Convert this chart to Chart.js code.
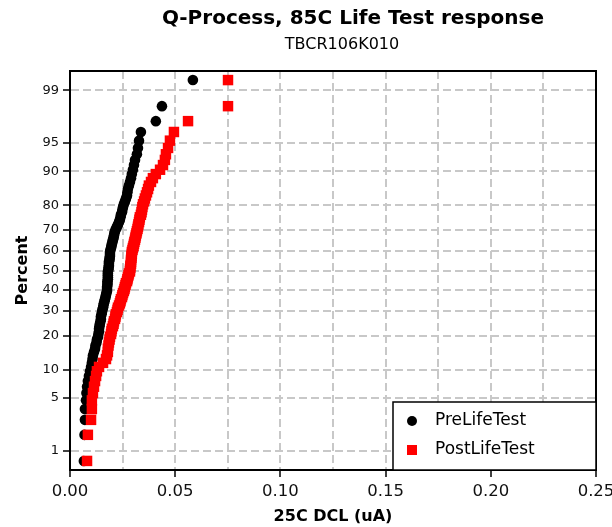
<!DOCTYPE html>
<html>
<head>
<meta charset="utf-8">
<title>Q-Process, 85C Life Test response</title>
<script src="https://cdn.jsdelivr.net/npm/chart.js"></script>
<style>
  html, body { margin: 0; padding: 0; background: #fff; }
  canvas { display: block; }
</style>
</head>
<body>
<canvas id="probPlot" width="612" height="527"></canvas>
<script>
const titleText = "Q-Process, 85C Life Test response";
const subtitleText = "TBCR106K010";
const xTitle = "25C DCL (uA)";
const yTitle = "Percent";
const seriesNames = ["PreLifeTest", "PostLifeTest"];

// 25C DCL readings (uA), 100 parts each
const preLifeTest = [
  0.0066, 0.0069, 0.0071, 0.0071, 0.0076, 0.0078, 0.0081, 0.0085, 0.0090, 0.0095,
  0.0100, 0.0104, 0.0107, 0.0109, 0.0114, 0.0119, 0.0121, 0.0126, 0.0128, 0.0133,
  0.0135, 0.0138, 0.0138, 0.0140, 0.0142, 0.0145, 0.0147, 0.0147, 0.0150, 0.0152,
  0.0154, 0.0157, 0.0159, 0.0161, 0.0164, 0.0166, 0.0169, 0.0171, 0.0173, 0.0176,
  0.0176, 0.0176, 0.0178, 0.0178, 0.0178, 0.0180, 0.0180, 0.0180, 0.0180, 0.0180,
  0.0183, 0.0183, 0.0185, 0.0185, 0.0185, 0.0188, 0.0188, 0.0190, 0.0190, 0.0190,
  0.0192, 0.0195, 0.0197, 0.0199, 0.0202, 0.0204, 0.0207, 0.0209, 0.0211, 0.0214,
  0.0218, 0.0223, 0.0228, 0.0233, 0.0237, 0.0240, 0.0242, 0.0247, 0.0249, 0.0252,
  0.0256, 0.0261, 0.0266, 0.0271, 0.0273, 0.0275, 0.0280, 0.0285, 0.0290, 0.0294,
  0.0299, 0.0304, 0.0309, 0.0318, 0.0323, 0.0328, 0.0337, 0.0408, 0.0437, 0.0584
];
const postLifeTest = [
  0.0081, 0.0085, 0.0100, 0.0104, 0.0104, 0.0109, 0.0114, 0.0119, 0.0124, 0.0128,
  0.0138, 0.0157, 0.0171, 0.0176, 0.0180, 0.0180, 0.0183, 0.0185, 0.0188, 0.0190,
  0.0195, 0.0197, 0.0199, 0.0204, 0.0207, 0.0209, 0.0214, 0.0216, 0.0218, 0.0223,
  0.0226, 0.0228, 0.0233, 0.0237, 0.0240, 0.0242, 0.0247, 0.0249, 0.0252, 0.0256,
  0.0259, 0.0261, 0.0264, 0.0266, 0.0271, 0.0273, 0.0275, 0.0278, 0.0280, 0.0285,
  0.0285, 0.0287, 0.0287, 0.0290, 0.0290, 0.0290, 0.0292, 0.0292, 0.0294, 0.0294,
  0.0297, 0.0299, 0.0302, 0.0304, 0.0306, 0.0309, 0.0311, 0.0313, 0.0316, 0.0318,
  0.0321, 0.0323, 0.0325, 0.0328, 0.0330, 0.0332, 0.0337, 0.0340, 0.0342, 0.0344,
  0.0347, 0.0352, 0.0356, 0.0361, 0.0366, 0.0371, 0.0375, 0.0385, 0.0394, 0.0408,
  0.0428, 0.0442, 0.0451, 0.0456, 0.0466, 0.0475, 0.0494, 0.0561, 0.0751, 0.0751
];

const percentTicks = [1, 5, 10, 20, 30, 40, 50, 60, 70, 80, 90, 95, 99];
const xTickLabels = ["0.00", "0.05", "0.10", "0.15", "0.20", "0.25"];
const percentRange = [0.5, 99.5];

const font = "DejaVu Sans";

// inverse normal cdf (Acklam) -> the probability axis
function probit(p) {
  const a = [-3.969683028665376e+01, 2.209460984245205e+02, -2.759285104469687e+02, 1.383577518672690e+02, -3.066479806614716e+01, 2.506628277459239e+00];
  const b = [-5.447609879822406e+01, 1.615858368580409e+02, -1.556989798598866e+02, 6.680131188771972e+01, -1.328068155288572e+01];
  const c = [-7.784894002430293e-03, -3.223964580411365e-01, -2.400758277161838e+00, -2.549732539343734e+00, 4.374664141464968e+00, 2.938163982698783e+00];
  const d = [7.784695709041462e-03, 3.224671290700398e-01, 2.445134137142996e+00, 3.754408661907416e+00];
  const pl = 0.02425;
  let q, r;
  if (p < pl) {
    q = Math.sqrt(-2 * Math.log(p));
    return (((((c[0] * q + c[1]) * q + c[2]) * q + c[3]) * q + c[4]) * q + c[5]) /
      ((((d[0] * q + d[1]) * q + d[2]) * q + d[3]) * q + 1);
  }
  if (p > 1 - pl) {
    q = Math.sqrt(-2 * Math.log(1 - p));
    return -(((((c[0] * q + c[1]) * q + c[2]) * q + c[3]) * q + c[4]) * q + c[5]) /
      ((((d[0] * q + d[1]) * q + d[2]) * q + d[3]) * q + 1);
  }
  q = p - 0.5;
  r = q * q;
  return (((((a[0] * r + a[1]) * r + a[2]) * r + a[3]) * r + a[4]) * r + a[5]) * q /
    (((((b[0] * r + b[1]) * r + b[2]) * r + b[3]) * r + b[4]) * r + 1);
}

// median rank plotting positions
function toPoints(values) {
  const n = values.length;
  return values.slice().sort((u, v) => u - v).map((v, i) => ({
    x: v,
    y: probit((i + 1 - 0.3) / (n + 0.4))
  }));
}

const isMajor = (v) => xTickLabels.includes(Number(v).toFixed(2));

const framePlugin = {
  id: "frame",
  afterDatasetsDraw(chart) {
    const { ctx, chartArea: a } = chart;
    ctx.save();
    ctx.strokeStyle = "#000";
    ctx.lineWidth = 2;
    ctx.beginPath();
    ctx.moveTo(a.left, a.top);
    ctx.lineTo(a.right, a.top);
    ctx.lineTo(a.right, a.bottom);
    ctx.stroke();
    ctx.restore();
  }
};

const titlesPlugin = {
  id: "titles",
  afterDraw(chart) {
    const ctx = chart.ctx;
    ctx.save();
    ctx.fillStyle = "#000";
    ctx.textAlign = "center";
    ctx.textBaseline = "middle";
    ctx.font = "bold 20px '" + font + "'";
    ctx.fillText(titleText, 353, 19);
    ctx.font = "16px '" + font + "'";
    ctx.fillText(subtitleText, 342, 45);
    ctx.restore();
  }
};

const legendPlugin = {
  id: "boxLegend",
  afterDraw(chart) {
    const { ctx, chartArea: a } = chart;
    const w = 203, h = 68;
    const x0 = a.right - w, y0 = a.bottom - h;
    ctx.save();
    ctx.fillStyle = "#fff";
    ctx.fillRect(x0, y0, w, h);
    ctx.strokeStyle = "#000";
    ctx.lineWidth = 1.5;
    ctx.strokeRect(x0, y0, w, h);
    ctx.font = "17px '" + font + "'";
    ctx.textBaseline = "middle";
    chart.data.datasets.forEach((ds, i) => {
      const cy = y0 + 19 + i * 29;
      const cx = x0 + 19;
      ctx.fillStyle = ds.backgroundColor;
      if (ds.pointStyle === "rect") {
        ctx.fillRect(cx - 5, cy - 5, 10, 10);
      } else {
        ctx.beginPath();
        ctx.arc(cx, cy, 5, 0, Math.PI * 2);
        ctx.fill();
      }
      ctx.fillStyle = "#000";
      ctx.fillText(ds.label, x0 + 42, cy);
    });
    ctx.restore();
  }
};

new Chart(document.getElementById("probPlot"), {
  type: "scatter",
  data: {
    datasets: [
      {
        label: seriesNames[0],
        data: toPoints(preLifeTest),
        backgroundColor: "#000000",
        borderWidth: 0,
        pointStyle: "circle",
        pointRadius: 5.3,
        order: 1
      },
      {
        label: seriesNames[1],
        data: toPoints(postLifeTest),
        backgroundColor: "#ff0000",
        borderWidth: 0,
        pointStyle: "rect",
        pointRadius: 7.4,
        order: 0
      }
    ]
  },
  plugins: [framePlugin, titlesPlugin, legendPlugin],
  options: {
    responsive: false,
    animation: false,
    layout: { padding: { top: 71, right: 16, left: 0, bottom: 0 } },
    plugins: {
      legend: { display: false },
      tooltip: { enabled: false },
      title: { display: false }
    },
    scales: {
      x: {
        type: "linear",
        min: 0,
        max: 0.25,
        afterFit(scale) {
          scale.height = 57;
          scale.paddingLeft = 0;
          scale.paddingRight = 0;
        },
        ticks: {
          stepSize: 0.025,
          autoSkip: false,
          maxRotation: 0,
          padding: 5,
          color: "#111",
          font: { family: font, size: 16.5 },
          callback: (v) => (isMajor(v) ? Number(v).toFixed(2) : "")
        },
        grid: {
          color: "#c8c8c8",
          lineWidth: 2,
          tickLength: 7,
          tickWidth: 1.5,
          tickColor: (ctx) => (ctx.tick && isMajor(ctx.tick.value) ? "#000" : "rgba(0,0,0,0)")
        },
        border: { display: true, color: "#000", width: 2, dash: [8, 4] },
        title: {
          display: true,
          text: xTitle,
          color: "#000",
          font: { family: font, size: 16, weight: "bold" },
          padding: { top: 0, bottom: 1 }
        }
      },
      y: {
        type: "linear",
        min: probit(percentRange[0] / 100),
        max: probit(percentRange[1] / 100),
        afterFit(scale) {
          scale.width = 70;
          scale.paddingTop = 0;
          scale.paddingBottom = 0;
        },
        afterBuildTicks(scale) {
          scale.ticks = percentTicks.map((p) => ({ value: probit(p / 100) }));
        },
        ticks: {
          autoSkip: false,
          padding: 4,
          color: "#111",
          font: { family: font, size: 13 },
          callback: (v, i) => String(percentTicks[i])
        },
        grid: {
          color: "#c8c8c8",
          lineWidth: 2,
          tickLength: 7,
          tickWidth: 1.5,
          tickColor: "#000"
        },
        border: { display: true, color: "#000", width: 2, dash: [8, 4] },
        title: {
          display: true,
          text: yTitle,
          color: "#000",
          font: { family: font, size: 16, weight: "bold" },
          padding: { top: 13, bottom: 0 }
        }
      }
    }
  }
});
</script>
</body>
</html>
